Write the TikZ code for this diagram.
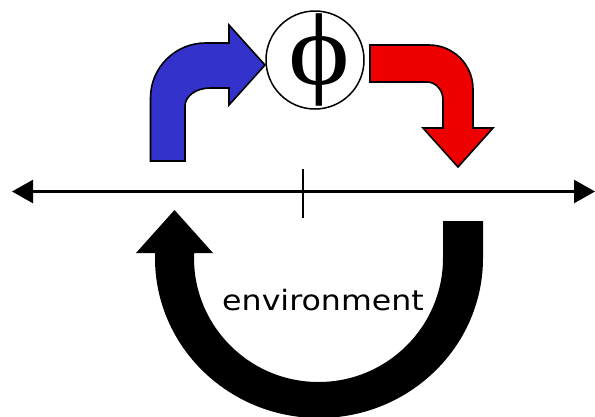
\documentclass[tikz,border=0pt]{standalone}
\usepackage{fontspec}
\usetikzlibrary{arrows.meta}
\newfontfamily\phifont[FakeStretch=1.15]{Liberation Serif}
\newfontfamily\envfont[FakeStretch=1.13]{DejaVu Sans}
\definecolor{arrowblue}{RGB}{51,51,204}
\definecolor{arrowred}{RGB}{238,0,0}

\begin{document}
\begin{tikzpicture}[
  x=1pt, y=1pt,
  >={Triangle[length=21pt,width=23pt]},
  bentarrow/.style={draw=black, line width=1.6pt, line join=miter},
  axisline/.style={line width=2.4pt},
  phicircle/.style={circle, draw=black, line width=1.5pt, fill=white, minimum size=98pt, inner sep=0pt, font=\phifont\fontsize{102}{102}\selectfont},
  envlabel/.style={font=\envfont\fontsize{28}{28}\selectfont, inner sep=0pt}
]
\useasboundingbox (0,0) rectangle (595,-416);

% Axis with tick
\coordinate (axl) at (12,-191.5);
\coordinate (axr) at (595,-191.5);
\coordinate (tickt) at (303,-169);
\coordinate (tickb) at (303,-218);
\draw[axisline, <->] (axl) -- (axr);
\draw[line width=2.2pt] (tickt) -- (tickb);

% Phi
\node[phicircle] (phi) at (315,-60) {\makebox[0pt]{\hspace*{8pt}ϕ}};

% Blue arrow into phi
\draw[bentarrow, fill=arrowblue] (150.5,-161) -- (150.5,-98)
  arc[start angle=180, end angle=90, radius=55] -- (229,-43) -- (229,-25)
  -- (265,-65) -- (229,-105) -- (229,-88) -- (210,-88)
  arc[start angle=90, end angle=180, x radius=25, y radius=18] -- (185,-161) -- cycle;

% Red arrow out of phi
\draw[bentarrow, fill=arrowred] (370,-45) -- (429,-45)
  arc[start angle=90, end angle=0, radius=44] -- (473,-128) -- (493,-128)
  -- (458,-167) -- (423,-128) -- (443,-128) -- (443,-100)
  arc[start angle=0, end angle=90, x radius=16, y radius=18] -- (370,-82) -- cycle;

% Environment loop
\fill[black] (483,-221) -- (483,-258)
  arc[start angle=0, end angle=-180, x radius=164, y radius=160] -- (155,-253)
  -- (136,-253) -- (174.5,-210) -- (213,-253) -- (194,-253) -- (194,-258)
  arc[start angle=180, end angle=360, x radius=124.5, y radius=124] -- (443,-221) -- cycle;
\node[envlabel, anchor=base] (env) at (323,-310) {environment};

\end{tikzpicture}
\end{document}
